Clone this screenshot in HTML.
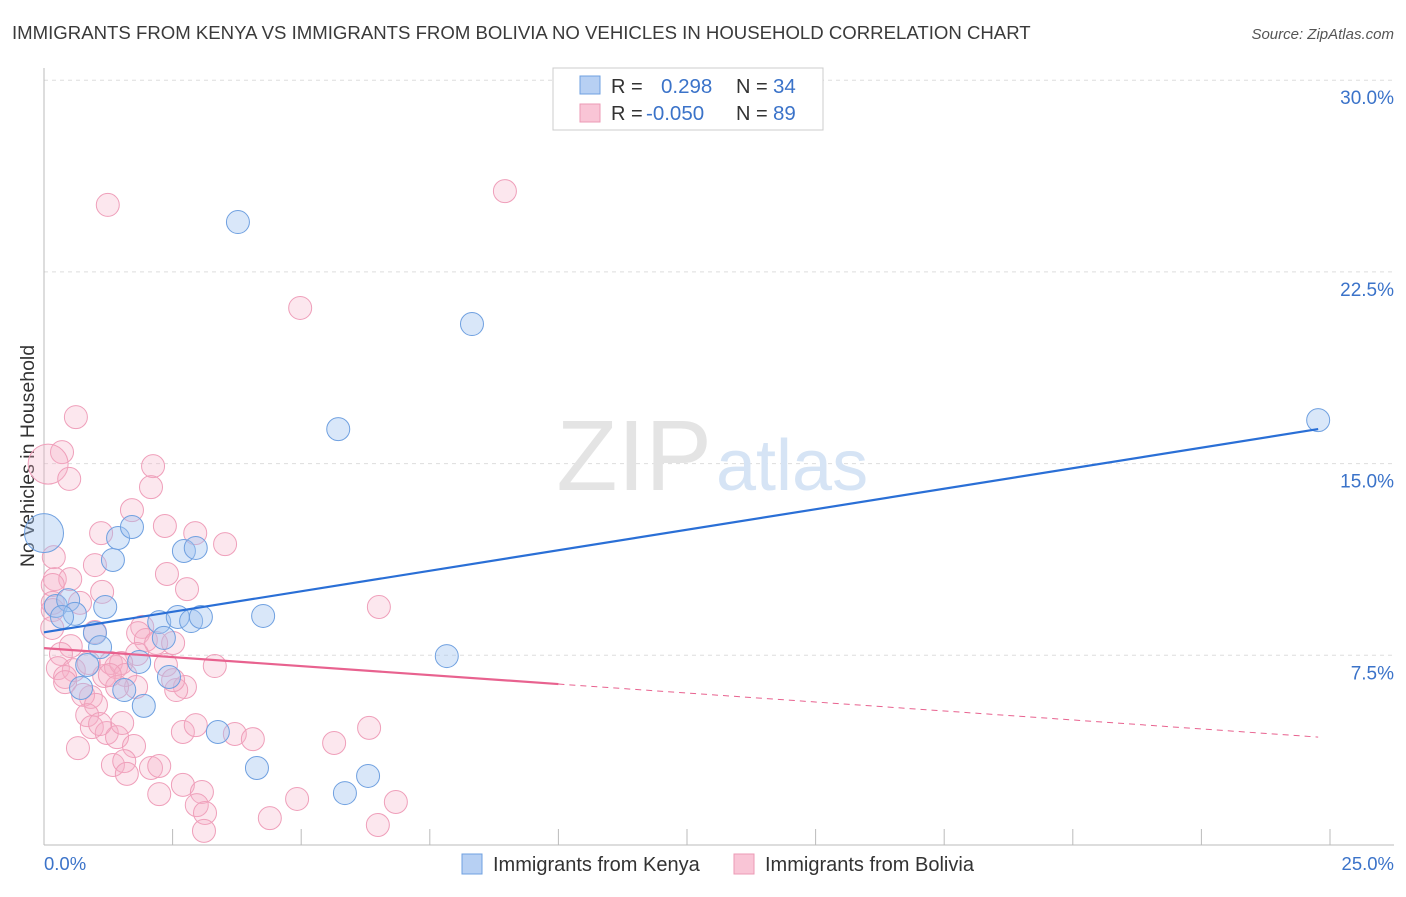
<!DOCTYPE html>
<html><head><meta charset="utf-8"><style>
body{margin:0;background:#fff;font-family:"Liberation Sans",sans-serif}
svg text{font-family:"Liberation Sans",sans-serif}
</style></head><body>
<svg width="1406" height="892">
<text x="12" y="39" font-size="18.6" fill="#3a3a3a">IMMIGRANTS FROM KENYA VS IMMIGRANTS FROM BOLIVIA NO VEHICLES IN HOUSEHOLD CORRELATION CHART</text>
<text x="1394" y="39" font-size="15" fill="#555" font-style="italic" text-anchor="end">Source: ZipAtlas.com</text>
<g id="grid"></g>
<text x="712" y="490" font-size="100" fill="#e4e4e4" text-anchor="end" font-family="Liberation Serif">ZIP</text>
<text x="716" y="490" font-size="72" fill="#d6e4f5">atlas</text>
<line x1="44" y1="68" x2="44" y2="845" stroke="#bbb"/>
<line x1="44" y1="845" x2="1394" y2="845" stroke="#bbb"/>
<g id="ticks"></g>
<text x="34" y="456" font-size="19.5" fill="#333" text-anchor="middle" transform="rotate(-90 34 456)">No Vehicles in Household</text>
<text x="44" y="870" font-size="18.5" fill="#3b73c9">0.0%</text>
<text x="1394" y="870" font-size="18.5" fill="#3b73c9" text-anchor="end">25.0%</text>
<g id="pts"></g>
<g id="lines"></g>
<g>
<rect x="553" y="68" width="270" height="62" fill="#fff" stroke="#ccc"/>
<rect x="580" y="76" width="20" height="18" fill="#b7d0f3" stroke="#6fa0e0"/>
<rect x="580" y="104" width="20" height="18" fill="#f9c5d6" stroke="#ec9ab5"/>
<text x="611" y="93" font-size="20" fill="#333">R = </text><text x="661" y="93" font-size="20.5" fill="#3b73c9">0.298</text>
<text x="736" y="93" font-size="20" fill="#333">N = </text><text x="773" y="93" font-size="20.5" fill="#3b73c9">34</text>
<text x="611" y="120" font-size="20" fill="#333">R = </text><text x="646" y="120" font-size="20.5" fill="#3b73c9">-0.050</text>
<text x="736" y="120" font-size="20" fill="#333">N = </text><text x="773" y="120" font-size="20.5" fill="#3b73c9">89</text>
</g>
<g>
<rect x="462" y="854" width="20" height="20" fill="#b7d0f3" stroke="#6fa0e0"/>
<text x="493" y="871" font-size="20" fill="#333">Immigrants from Kenya</text>
<rect x="734" y="854" width="20" height="20" fill="#f9c5d6" stroke="#ec9ab5"/>
<text x="765" y="871" font-size="20" fill="#333">Immigrants from Bolivia</text>
</g>
</svg>
<script>
const yTicks=[7.5,15,22.5,30];
const yTickLabels=["7.5%","15.0%","22.5%","30.0%"];
const xTicks=[0,2.5,5,7.5,10,12.5,15,17.5,20,22.5,25];
const kenyaX=[0,0.23,0.47,0.60,0.35,1.19,0.99,1.09,0.84,0.72,1.56,1.34,1.44,1.71,1.85,1.94,2.24,2.33,2.43,2.60,2.72,2.95,2.86,3.05,3.38,4.14,4.26,3.77,5.72,5.85,6.30,7.83,8.32,24.77];
const kenyaY=[12.28,9.43,9.66,9.12,9.0,9.39,8.37,7.82,7.12,6.22,6.14,11.23,12.09,12.52,7.24,5.52,8.80,8.18,6.65,9.0,11.58,11.70,8.84,9.0,4.50,3.09,9.04,24.45,16.35,2.11,2.78,7.47,20.46,16.7];
const kenyaSize=[20,12,12,12,12,12,12,12,12,12,12,12,12,12,12,12,12,12,12,12,12,12,12,12,12,12,12,12,12,12,12,12,12,12];
const boliviaX=[0.62,0.35,0.08,0.49,2.12,2.08,1.71,1.11,2.35,2.94,3.52,0.19,0.99,2.39,2.78,0.21,0.51,0.17,1.13,0.70,0.17,0.17,6.51,0.16,0.52,0.99,1.91,1.83,1.98,2.18,2.51,0.33,1.81,3.32,2.37,0.27,0.58,0.41,0.41,1.17,1.30,1.40,1.50,1.58,1.79,1.42,2.74,2.57,0.91,0.76,1.01,0.84,0.93,1.22,1.42,1.52,1.09,0.66,1.75,1.34,1.56,1.61,2.08,2.24,2.24,2.70,3.07,2.97,3.13,3.11,4.39,4.92,6.49,6.84,5.64,6.32,2.70,2.95,3.71,4.06,1.24,8.96,4.98,1.28,2.51,0.87];
const boliviaY=[16.82,15.45,14.98,14.40,14.90,14.08,13.18,12.28,12.56,12.28,11.85,11.34,11.03,10.68,10.09,10.48,10.48,10.25,9.98,9.55,9.55,9.27,9.39,8.57,7.86,8.41,8.61,8.37,8.10,7.98,7.98,7.55,7.55,7.08,7.12,7.00,6.92,6.65,6.45,6.69,7.20,7.04,7.20,6.73,6.26,6.26,6.26,6.14,5.87,5.95,5.56,5.16,4.69,4.46,4.30,4.85,4.81,3.87,3.95,3.21,3.36,2.86,3.09,3.17,2.07,2.43,2.15,1.64,1.33,0.63,1.13,1.88,0.86,1.76,4.07,4.66,4.50,4.77,4.42,4.22,25.12,25.66,21.09,6.73,6.53,7.20];
const kenyaTrend=[8.4,16.35];
const boliviaTrend=[7.78,4.3];
const boliviaSolidEnd=10;
const NS="http://www.w3.org/2000/svg";
const X=v=>44+v/25*1286;
const Y=v=>847-v/7.5*191.7;
function mk(t,a,p){const e=document.createElementNS(NS,t);for(const k in a)e.setAttribute(k,a[k]);document.getElementById(p).appendChild(e);return e;}
yTicks.forEach((t,i)=>{
 const l=mk('line',{x1:44,x2:1394,y1:Y(t),y2:Y(t),stroke:'#ddd','stroke-dasharray':'4,4'},'grid');
 
 
 const tx=mk('text',{x:1394,y:Y(t)+24,'font-size':19,fill:'#3b73c9','text-anchor':'end'},'grid');
 tx.textContent=yTickLabels[i];
 
 
});
xTicks.forEach(t=>{
 const l=mk('line',{x1:X(t),x2:X(t),y1:829,y2:845,stroke:'#bbb'},'ticks');
 
 
});
boliviaX.forEach((v,i)=>{
 const c=mk('circle',{cx:X(v),cy:Y(boliviaY[i]),r:i==2?20:11.5,fill:'rgba(246,175,200,0.3)',stroke:'#ef9fba','stroke-width':1},'pts');
 
 
});
kenyaX.forEach((v,i)=>{
 const c=mk('circle',{cx:X(v),cy:Y(kenyaY[i]),r:kenyaSize[i]-0.5,fill:'rgba(160,195,240,0.4)',stroke:'#6fa0e0','stroke-width':1},'pts');
 
 
});
const bt=v=>boliviaTrend[0]+(boliviaTrend[1]-boliviaTrend[0])*v/24.77;
let l1=mk('line',{x1:X(0),y1:Y(kenyaTrend[0]),x2:X(24.77),y2:Y(kenyaTrend[1]),stroke:'#2a6fd6','stroke-width':2.2},'lines');


let l2=mk('line',{x1:X(0),y1:Y(bt(0)),x2:X(boliviaSolidEnd),y2:Y(bt(boliviaSolidEnd)),stroke:'#e8628f','stroke-width':2.2},'lines');


let l3=mk('line',{x1:X(boliviaSolidEnd),y1:Y(bt(boliviaSolidEnd)),x2:X(24.77),y2:Y(bt(24.77)),stroke:'#e8628f','stroke-width':1,'stroke-dasharray':'6,5'},'lines');


</script>
</body></html>
